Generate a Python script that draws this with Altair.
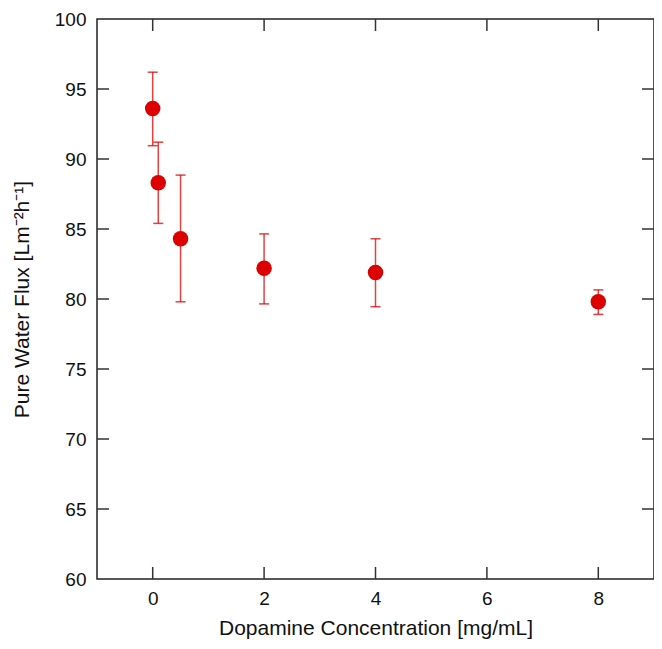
import altair as alt
import pandas as pd

conc = [0, 0.1, 0.5, 2, 4, 8]
flux = [93.6, 88.3, 84.3, 82.2, 81.9, 79.8]
flux_lo = [90.95, 85.4, 79.8, 79.65, 79.45, 78.9]
flux_hi = [96.2, 91.2, 88.85, 84.65, 84.3, 80.65]

x_ticks = [0, 2, 4, 6, 8]
y_ticks = [60, 65, 70, 75, 80, 85, 90, 95, 100]

W, H = 557, 560
TL = 12
FONT = "Liberation Sans"
RED = "#dd0000"

df = pd.DataFrame({"conc": conc, "flux": flux, "lo": flux_lo, "hi": flux_hi})
xt = pd.DataFrame({"v": x_ticks})
yt = pd.DataFrame({"v": [v for v in y_ticks if v not in (60, 100)]})

xscale = alt.Scale(domain=[-1, 9], nice=False, zero=False)
yscale = alt.Scale(domain=[60, 100], nice=False, zero=False)

xaxis = alt.Axis(values=x_ticks, format="d", tickSize=0, domain=False, grid=False,
                 labelFont=FONT, labelFontSize=19, labelColor="#111", labelPadding=10,
                 title="Dopamine Concentration [mg/mL]", titleFont=FONT,
                 titleFontSize=21, titleFontWeight="normal", titleColor="#111", titlePadding=9)
yaxis = alt.Axis(values=y_ticks, format="d", tickSize=0, domain=False, grid=False,
                 labelFont=FONT, labelFontSize=19, labelColor="#111", labelPadding=11,
                 title="Pure Water Flux [Lm⁻²h⁻¹]", titleFont=FONT,
                 titleFontSize=21, titleFontWeight="normal", titleColor="#111", titlePadding=22)

base = alt.Chart(df)

err = base.mark_errorbar(ticks=alt.MarkConfig(size=10), color=RED, opacity=0.75, thickness=1.5).encode(
    x=alt.X("conc:Q", scale=xscale, axis=xaxis),
    y=alt.Y("lo:Q", scale=yscale, axis=yaxis),
    y2="hi:Q",
)

pts = base.mark_circle(size=240, color=RED, opacity=1).encode(
    x=alt.X("conc:Q", scale=xscale),
    y=alt.Y("flux:Q", scale=yscale),
)

tick_style = dict(color="#333", strokeWidth=1.5)
bot = alt.Chart(xt).mark_rule(**tick_style).encode(
    x=alt.X("v:Q", scale=xscale), y=alt.value(H), y2=alt.value(H - TL))
top = alt.Chart(xt).mark_rule(**tick_style).encode(
    x=alt.X("v:Q", scale=xscale), y=alt.value(0), y2=alt.value(TL))
left = alt.Chart(yt).mark_rule(**tick_style).encode(
    y=alt.Y("v:Q", scale=yscale), x=alt.value(0), x2=alt.value(TL))
right = alt.Chart(yt).mark_rule(**tick_style).encode(
    y=alt.Y("v:Q", scale=yscale), x=alt.value(W), x2=alt.value(W - TL))

chart = alt.layer(bot, top, left, right, err, pts).properties(
    width=W, height=H,
    background="white",
    autosize=alt.AutoSizeParams(type="none"),
    padding={"left": 89, "top": 11, "right": 0, "bottom": 62},
).configure_view(stroke="#222", strokeWidth=1.5)

chart.save("out.html", embed_options={"renderer": "svg", "actions": False})
